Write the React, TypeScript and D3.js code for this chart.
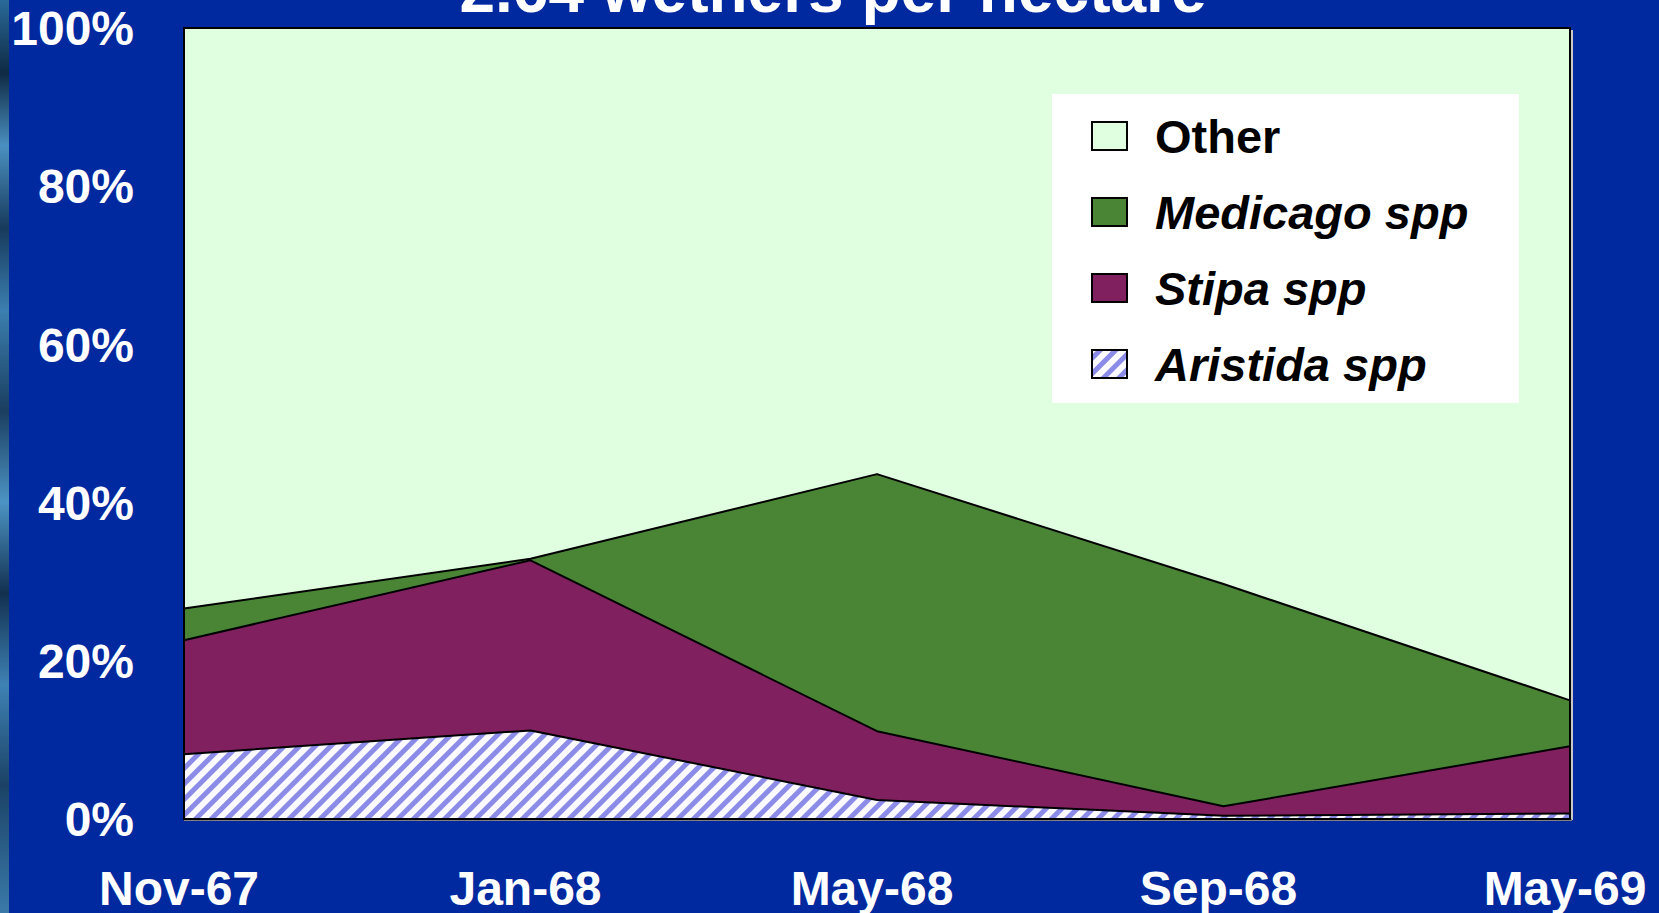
import React from "react";
import * as d3 from "d3";

const categories = ["Nov-67", "Jan-68", "May-68", "Sep-68", "May-69"];
const aristida = [8.2, 11.2, 2.4, 0.4, 0.7];
const stipa = [14.4, 21.5, 8.7, 1.2, 8.5];
const medicago = [4.0, 0.2, 32.5, 28.1, 5.8];
const other = [73.4, 67.1, 56.4, 70.3, 85.0];
const yTicks = [0, 20, 40, 60, 80, 100];
const seriesKeys = ["Aristida", "Stipa", "Medicago", "Other"];
const legendLabels = ["Other", "Medicago spp", "Stipa spp", "Aristida spp"];
const titleText = "2.64 wethers per hectare";

const W = 1659;
const H = 913;
const plot = { left: 184, right: 1570, top: 28, bottom: 819 };
const BG = "#0029A0";
const fills: Record<string, string> = {
  Other: "#E0FFE0",
  Medicago: "#4A8536",
  Stipa: "#80205E",
  Aristida: "url(#hatch)",
};

export default function App() {
  const x = d3.scalePoint<string>().domain(categories).range([plot.left, plot.right]);
  const y = d3.scaleLinear().domain([0, 100]).range([plot.bottom, plot.top]);
  const rows = categories.map((c, i) => ({
    cat: c,
    Aristida: aristida[i],
    Stipa: stipa[i],
    Medicago: medicago[i],
    Other: other[i],
  }));
  const stacked = d3.stack<any>().keys(seriesKeys)(rows);
  const area = d3
    .area<any>()
    .x((d) => x(d.data.cat) as number)
    .y0((d) => y(d[0]))
    .y1((d) => y(Math.min(100, d[1])));
  const line = d3
    .line<any>()
    .x((d) => x(d.data.cat) as number)
    .y((d) => y(Math.min(100, d[1])));

  const font = "'Liberation Sans', Arial, sans-serif";
  const legendX = 1092;
  const legendY0 = 122;
  const legendStep = 76;
  const legendKeys = ["Other", "Medicago", "Stipa", "Aristida"];

  return (
    <svg
      width={W}
      height={H}
      style={{ position: "absolute", left: 0, top: 0, display: "block" }}
      fontFamily={font}
    >
      <defs>
        <pattern
          id="hatch"
          patternUnits="userSpaceOnUse"
          width={11}
          height={11}
          patternTransform="rotate(45)"
        >
          <rect width={11} height={11} fill="#FAFAFF" />
          <rect width={5} height={11} fill="#8C8CE8" />
        </pattern>
        <linearGradient id="strip" x1="0" y1="0" x2="0" y2="1">
          <stop offset="0" stopColor="#2A6A9A" />
          <stop offset="0.08" stopColor="#0E2A44" />
          <stop offset="0.16" stopColor="#4A90C0" />
          <stop offset="0.25" stopColor="#173A5C" />
          <stop offset="0.34" stopColor="#3B7FB0" />
          <stop offset="0.45" stopColor="#1A3E60" />
          <stop offset="0.55" stopColor="#4C94C4" />
          <stop offset="0.65" stopColor="#123050" />
          <stop offset="0.75" stopColor="#3E82B4" />
          <stop offset="0.86" stopColor="#1B4266" />
          <stop offset="1" stopColor="#3A7AAA" />
        </linearGradient>
      </defs>
      <rect width={W} height={H} fill={BG} />
      <rect x={0} y={0} width={9} height={H} fill="url(#strip)" />

      <text
        x={833}
        y={12}
        fill="#fff"
        fontSize={64}
        fontWeight="bold"
        textAnchor="middle"
      >
        {titleText}
      </text>

      {/* plot background */}
      <rect
        x={plot.left}
        y={plot.top}
        width={plot.right - plot.left}
        height={plot.bottom - plot.top}
        fill={fills.Other}
      />
      {stacked.map((s) => (
        <path key={s.key} d={area(s as any) || ""} fill={fills[s.key]} />
      ))}
      {stacked
        .filter((s) => s.key !== "Other")
        .map((s) => (
          <path
            key={"l" + s.key}
            d={line(s as any) || ""}
            fill="none"
            stroke="#000"
            strokeWidth={2}
            strokeLinejoin="round"
          />
        ))}
      {/* plot border */}
      <line x1={plot.right + 2} y1={plot.top + 2} x2={plot.right + 2} y2={plot.bottom + 1} stroke="#C8C8C8" strokeWidth={2} />
      <line x1={plot.left} y1={plot.bottom + 1} x2={plot.right + 2} y2={plot.bottom + 1} stroke="#808080" strokeWidth={2} />
      <rect
        x={plot.left}
        y={plot.top}
        width={plot.right - plot.left}
        height={plot.bottom - plot.top}
        fill="none"
        stroke="#000"
        strokeWidth={2}
      />

      {/* y ticks */}
      {yTicks.map((t) => (
        <text
          key={t}
          x={134}
          y={y(t)}
          dy="0.36em"
          fill="#fff"
          fontSize={48}
          fontWeight="bold"
          textAnchor="end"
        >
          {t + "%"}
        </text>
      ))}
      {/* x ticks */}
      {categories.map((c) => (
        <text
          key={c}
          x={(x(c) as number) - 5}
          y={905}
          fill="#fff"
          fontSize={48}
          fontWeight="bold"
          textAnchor="middle"
        >
          {c}
        </text>
      ))}

      {/* legend */}
      <rect x={1052} y={94} width={467} height={309} fill="#fff" />
      {legendKeys.map((k, i) => (
        <g key={k}>
          <rect
            x={legendX}
            y={legendY0 + i * legendStep}
            width={35}
            height={28}
            fill={fills[k]}
            stroke="#000"
            strokeWidth={2}
          />
          <text
            x={1155}
            y={legendY0 + i * legendStep + 31}
            fontSize={47}
            fontWeight="bold"
            fontStyle={k === "Other" ? "normal" : "italic"}
            fill="#000"
          >
            {legendLabels[i]}
          </text>
        </g>
      ))}
    </svg>
  );
}
